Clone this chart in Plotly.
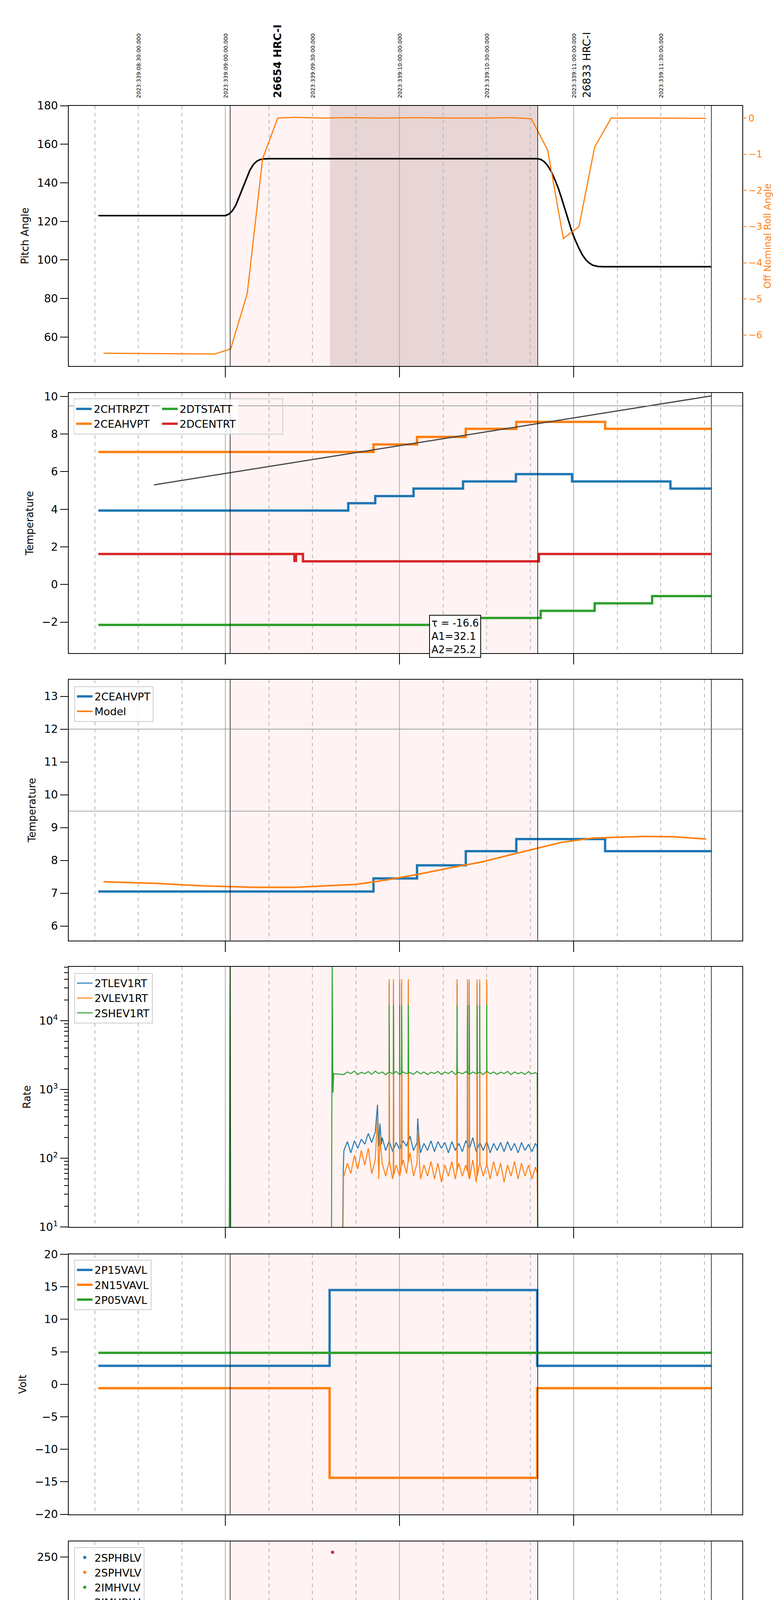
import numpy as np
import plotly.graph_objects as go

# ---------------- data (time in decimal hours, 2023-12-05) ----------------
pitch_t = [3.27, 4.00, 4.02, 4.04, 4.06, 4.08, 4.10, 4.12, 4.14, 4.16, 4.18, 4.20, 4.22, 4.25, 5.79, 5.81, 5.83, 5.85, 5.87, 5.89, 5.91, 5.93, 5.95, 5.97, 5.99, 6.01, 6.03, 6.05, 6.07, 6.09, 6.11, 6.14, 6.17, 6.79]
pitch_v = [123, 123, 123.8, 125.5, 128.5, 133, 138, 142.5, 146.5, 149.5, 151.2, 152.1, 152.4, 152.5, 152.5, 152.2, 151, 149, 146, 142, 137.5, 132, 126, 120, 114.5, 110, 106, 102.5, 100, 98.3, 97.2, 96.6, 96.5, 96.5]
roll_t = [3.30, 3.94, 4.03, 4.125, 4.213, 4.30, 4.40, 4.55, 4.70, 4.90, 5.10, 5.30, 5.50, 5.65, 5.756, 5.85, 5.94, 6.03, 6.12, 6.215, 6.50, 6.76]
roll_v = [-6.5, -6.52, -6.38, -4.85, -1.13, 0.0, 0.02, 0.0, 0.01, 0.0, 0.01, 0.0, 0.0, 0.01, -0.02, -0.88, -3.33, -3.0, -0.8, 0.0, 0.0, -0.01]

chtrpzt_t = [3.27, 4.705, 4.86, 5.08, 5.364, 5.668, 5.99, 6.555, 6.79]
chtrpzt_v = [3.93, 4.32, 4.70, 5.10, 5.48, 5.87, 5.48, 5.10, 5.10]
ceahvpt_t = [3.27, 4.85, 5.10, 5.38, 5.67, 6.18, 6.79]
ceahvpt_v = [7.05, 7.45, 7.85, 8.28, 8.65, 8.28, 8.28]
dtstatt_t = [3.27, 5.45, 5.81, 6.12, 6.45, 6.79]
dtstatt_v = [-2.15, -1.78, -1.40, -1.00, -0.62, -0.62]
dcentrt_t = [3.27, 4.396, 4.405, 4.43, 4.445, 5.80, 6.79]
dcentrt_v = [1.62, 1.25, 1.62, 1.62, 1.23, 1.62, 1.62]
fit_t = [3.59, 6.79]
fit_v = [5.30, 10.03]

model_t = [3.30, 3.59, 3.88, 4.17, 4.40, 4.75, 4.92, 5.10, 5.27, 5.47, 5.62, 5.76, 5.93, 6.11, 6.40, 6.57, 6.76]
model_v = [7.35, 7.30, 7.22, 7.18, 7.18, 7.27, 7.40, 7.57, 7.75, 7.95, 8.15, 8.33, 8.55, 8.68, 8.73, 8.72, 8.65]

# Rates
rate_t0, rate_dt = 4.68, 0.02
tlev_base = [130,175,120,180,140,190,160,230,170,240,150,200,130,175,125,170,135,180,150,210,130,170,120,165,130,180,125,175,140,170,120,175,130,165,125,180,140,200,125,170,130,175,120,165,130,170,125,175,130,165,120,170,130,160,125,165]
vlev_base = [55,85,60,110,70,130,80,140,60,95,50,85,55,90,50,80,55,95,60,120,55,85,50,80,55,90,50,85,45,80,55,90,50,85,55,80,50,95,45,85,55,80,50,90,55,85,45,80,55,90,50,85,55,80,50,75]
shev_base = [1650,1800,1700,1850,1650,1780,1700,1820,1660,1850,1700,1800,1640,1790,1690,1830,1650,1800,1700,1760,1660,1840,1690,1800,1650,1780,1710,1830,1660,1800,1700,1850,1650,1790,1690,1820,1660,1800,1700,1780,1650,1840,1690,1800,1660,1790,1700,1830,1650,1800,1700,1780,1660,1820,1690,1760]
tlev_bumps = [(4.670, 1), (4.676, 60), (4.873, 600), (4.879, 200), (4.887, 320), (4.896, 160), (5.104, 380), (5.111, 200), (5.79, 150), (5.795, 1)]
vlev_bumps = [(4.672, 1), (4.678, 60), (4.873, 400), (4.887, 200), (5.104, 260), (5.115, 80), (5.79, 60), (5.795, 1)]
shev_bumps = [(4.02, 1), (4.027, 80000), (4.031, 1), (4.608, 1), (4.613, 80000), (4.617, 900), (4.622, 1700), (5.79, 1700), (5.795, 1)]
rate_spikes = [4.94, 4.965, 5.0, 5.012, 5.05, 5.33, 5.39, 5.40, 5.445, 5.46, 5.50]
tlev_peak, vlev_peak, shev_peak = 35000, 40000, 17000

# Volts
p15_t = [3.27, 4.598, 5.79, 6.79]; p15_v = [2.85, 14.5, 2.85, 2.85]
n15_t = [3.27, 4.598, 5.79, 6.79]; n15_v = [-0.6, -14.4, -0.6, -0.6]
p05_t = [3.27, 6.79]; p05_v = [4.85, 4.85]

# HV monitor
imhblv_t = [4.615, 4.624, 4.625, 4.628, 4.632, 4.636, 4.640, 4.645, 4.650, 4.655, 4.660, 4.665, 5.0, 5.40]
imhblv_v = [255, 127, 125, 119, 106, 105, 101, 100, 95, 90, 88, 86, 79, 79]
imhvlv_t = [4.620, 4.625, 4.630, 4.638, 4.645, 4.652, 4.660, 4.668, 5.0, 5.405]
imhvlv_v = [100, 98, 96, 90, 88, 85, 83, 80, 127, 127]
hv_flat_start, hv_flat_end, hv_flat_dt = 4.67, 5.795, 0.004
imhblv_flat, imhvlv_flat = 86, 79

# Detector temps
spinatm_t = [4.624, 4.676, 5.783]; spinatm_v = [3.69, 4.15, 4.15]
sphvatm_t = [4.613, 4.68, 4.804, 4.809, 5.486, 5.783]; sphvatm_v = [16.05, 15.85, 16.05, 16.1, 16.4, 16.4]
iminatm_t = [4.625, 5.783]; iminatm_v = [2.35, 2.35]
imhvatm_t = [4.607, 4.608, 4.711, 4.844, 4.945, 5.06, 5.19, 5.335, 5.457, 5.673, 5.783, 5.795, 5.80]
imhvatm_v = [0.0, 15.27, 15.5, 15.8, 16.05, 16.4, 16.65, 16.95, 17.2, 17.5, 25, 25, 0.0]
det_spikes = [4.94, 4.965, 5.0, 5.01, 5.05, 5.33, 5.395, 5.405, 5.465, 5.50]
sphv_dips = [10.6, 10.6, 10.6, 10.9, 10.8, 11.4, 11.4, 11.4, 11.4, 11.4]

# FEA temps
fhtrmzt_t = [3.27, 4.772, 4.913, 5.038, 5.153, 5.275, 5.40, 5.517, 5.645, 5.775, 5.948, 6.208, 6.59, 6.79]
fhtrmzt_v = [-4.8, -4.4, -4.05, -3.65, -3.28, -2.9, -2.52, -2.13, -1.76, -1.38, -1.0, -1.38, -1.76, -1.76]
fradpyt_t = [3.27, 4.728, 4.855, 4.98, 5.10, 5.22, 5.347, 5.474, 5.61, 5.746, 6.173, 6.318, 6.477, 6.67, 6.79]
fradpyt_v = [-6.4, -6.0, -5.6, -5.2, -4.8, -4.42, -4.03, -3.65, -3.26, -2.88, -3.26, -3.65, -4.03, -4.42, -4.42]
fepratm_t = [4.62, 4.65, 4.694, 4.743, 4.795, 4.879, 5.023, 5.06, 5.176, 5.286, 5.42, 5.543, 5.682, 5.783, 5.79]
fepratm_v = [-3.85, -3.45, -3.03, -2.62, -2.22, -1.84, -1.45, -1.03, -0.6, -0.2, 0.2, 0.6, 1.03, 3.0, 3.0]
fe00atm_t = [4.607, 4.608, 4.725, 4.835, 4.922, 5.014, 5.09, 5.176, 5.27, 5.36, 5.45, 5.543, 5.64, 5.74, 5.79, 5.795, 5.80]
fe00atm_v = [-8.0, -2.45, -2.1, -1.75, -1.47, -1.13, -0.8, -0.48, -0.16, 0.16, 0.45, 0.75, 1.1, 1.4, 3.0, 3.0, -8.0]
fep_dips = [4.94, 4.965, 5.0, 5.01, 5.05, 5.33, 5.40]

# time marks
obs_start, obs_end, last_line, dark_start = 4.027, 5.793, 6.79, 4.60
top_label_hours = [3.5, 4.0, 4.5, 5.0, 5.5, 6.0, 6.5]
top_label_text = ["2023:339:08:30:00.000", "2023:339:09:00:00.000", "2023:339:09:30:00.000",
                  "2023:339:10:00:00.000", "2023:339:10:30:00.000", "2023:339:11:00:00.000",
                  "2023:339:11:30:00.000"]
obsid_hours = [4.30, 6.074]
obsid_text = ["<b>26654 HRC-I</b>", "26833 HRC-I"]

# ---------------- helpers ----------------
def step_val(ts, vs, t):
    idx = np.searchsorted(ts, t, side="right") - 1
    return vs[max(idx, 0)]

def with_spikes(ts, vs, times, peaks, w=0.004):
    pts = list(zip(ts, vs))
    if np.isscalar(peaks):
        peaks = [peaks] * len(times)
    for t, p in zip(times, peaks):
        b = step_val(ts, vs, t)
        pts += [(t, p), (t + w, b)]
    pts.sort(key=lambda a: a[0])
    return [a[0] for a in pts], [a[1] for a in pts]

def noisy(base, bumps, peak):
    t = list(rate_t0 + rate_dt * np.arange(len(base)))
    v = list(base)
    pts = list(zip(t, v)) + bumps
    for s in rate_spikes:
        b = float(np.interp(s, t, v))
        pts += [(s - 0.0015, b), (s, peak), (s + 0.0015, b)]
    pts.sort(key=lambda a: a[0])
    return [a[0] for a in pts], [a[1] for a in pts]

C = ["#1f77b4", "#ff7f0e", "#2ca02c", "#d62728"]
FONT = "DejaVu Sans"
X0, X1 = 3.10, 6.968
XD = [0.084, 0.9465]
doms = [[0.852, 0.960], [0.7327, 0.8408], [0.6135, 0.7218], [0.4945, 0.6026],
        [0.3753, 0.4832], [0.2561, 0.3640], [0.1369, 0.2448], [0.0176, 0.1256]]
quarters = [h + q for h in [3, 4, 5, 6] for q in [0.25, 0.5, 0.75]]

fig = go.Figure()

def add(i, x, y, name, color, width=6, legend=None, shape="hv", mode="lines", yax=None, msize=8):
    ax = "" if i == 1 else str(i)
    kw = dict(x=x, y=y, name=name, xaxis="x" + ax, yaxis=yax or ("y" + ax))
    if mode == "lines":
        kw.update(mode="lines", line=dict(color=color, width=width, shape=shape))
    else:
        kw.update(mode="markers", marker=dict(color=color, size=msize))
    if legend:
        kw.update(legend=legend, showlegend=True)
    else:
        kw.update(showlegend=False)
    fig.add_trace(go.Scatter(**kw))

# panel 1
add(1, pitch_t, pitch_v, "pitch", "black", 4, shape="linear")
add(1, roll_t, roll_v, "roll", C[1], 3, shape="linear", yax="y9")
# panel 2
add(2, chtrpzt_t, chtrpzt_v, "2CHTRPZT", C[0], 6, legend="legend2")
add(2, ceahvpt_t, ceahvpt_v, "2CEAHVPT", C[1], 6, legend="legend2")
add(2, dtstatt_t, dtstatt_v, "2DTSTATT", C[2], 6, legend="legend9")
add(2, dcentrt_t, dcentrt_v, "2DCENTRT", C[3], 6, legend="legend9")
add(2, fit_t, fit_v, "fit", "#444444", 3, shape="linear")
# panel 3
add(3, ceahvpt_t, ceahvpt_v, "2CEAHVPT", C[0], 6, legend="legend3")
add(3, model_t, model_v, "Model", C[1], 4, legend="legend3", shape="linear")
# panel 4
tx, ty = noisy(tlev_base, tlev_bumps, tlev_peak)
add(4, tx, ty, "2TLEV1RT", C[0], 2.5, legend="legend4", shape="linear")
vx, vy = noisy(vlev_base, vlev_bumps, vlev_peak)
add(4, vx, vy, "2VLEV1RT", C[1], 2.5, legend="legend4", shape="linear")
sx, sy = noisy(shev_base, shev_bumps, shev_peak)
add(4, sx, sy, "2SHEV1RT", C[2], 2.5, legend="legend4", shape="linear")
# panel 5
add(5, p15_t, p15_v, "2P15VAVL", C[0], 6, legend="legend5")
add(5, n15_t, n15_v, "2N15VAVL", C[1], 6, legend="legend5")
add(5, p05_t, p05_v, "2P05VAVL", C[2], 6, legend="legend5")
# panel 6
flat_t = list(np.arange(hv_flat_start, hv_flat_end, hv_flat_dt))
rb_t = imhblv_t + flat_t; rb_v = imhblv_v + [imhblv_flat] * len(flat_t)
gv_t = imhvlv_t + flat_t; gv_v = imhvlv_v + [imhvlv_flat] * len(flat_t)
add(6, rb_t, rb_v, "2SPHBLV", C[0], mode="markers", legend="legend6")
add(6, gv_t, gv_v, "2SPHVLV", C[1], mode="markers", legend="legend6")
add(6, gv_t, gv_v, "2IMHVLV", C[2], mode="markers", legend="legend6")
add(6, rb_t, rb_v, "2IMHBLV", C[3], mode="markers", legend="legend6")
# panel 7
a, b = with_spikes(spinatm_t, spinatm_v, det_spikes, -2)
add(7, [4.624] + a, [-2] + b, "2SPINATM", C[0], 6, legend="legend7")
a, b = with_spikes(sphvatm_t, sphvatm_v, det_spikes, sphv_dips)
add(7, a, b, "2SPHVATM", C[1], 6, legend="legend7")
a, b = with_spikes(iminatm_t, iminatm_v, det_spikes, 4.15)
add(7, a, b, "2IMINATM", C[2], 6, legend="legend7")
add(7, imhvatm_t, imhvatm_v, "2IMHVATM", C[3], 6, legend="legend7")
# panel 8
add(8, fhtrmzt_t, fhtrmzt_v, "2FHTRMZT", C[0], 6, legend="legend8")
add(8, fradpyt_t, fradpyt_v, "2FRADPYT", C[1], 6, legend="legend8")
a, b = with_spikes(fepratm_t, fepratm_v, fep_dips, -4.6)
add(8, a, b, "2FEPRATM", C[2], 6, legend="legend8")
a, b = with_spikes(fe00atm_t, fe00atm_v, det_spikes, 3.0)
add(8, a, b, "2FE00ATM", C[3], 6, legend="legend8")

# ---------------- layout ----------------
layout = dict(width=2000, height=6200, margin=dict(l=0, r=0, t=0, b=0),
              paper_bgcolor="white", plot_bgcolor="white",
              font=dict(family=FONT, size=28, color="black"))
yranges = [[45, 180], [-3.66, 10.19], [5.56, 13.51], [1, 4.785], [-20, 20], [0, 266], [0.87, 18.42], [-7.1, 1.98]]
ytitles = ["Pitch Angle", "Temperature", "Temperature", "Rate", "Volt", "HV Monitor", "Detector Temp", "FEA Temp"]
yticks = [list(range(60, 181, 20)), list(range(-2, 11, 2)), list(range(6, 14)), [10, 100, 1000, 10000],
          list(range(-20, 21, 5)), list(range(0, 251, 50)), list(range(2, 19, 2)), [-6, -4, -2, 0]]
for i in range(1, 9):
    ax = "" if i == 1 else str(i)
    last = i == 8
    layout["xaxis" + ax] = dict(domain=XD, anchor="y" + ax, range=[X0, X1], tickmode="array",
                                tickvals=[4, 5, 6], showticklabels=False, ticks="outside",
                                ticklen=27, tickwidth=2, tickcolor="black",
                                showgrid=True, gridcolor="#b0b0b0", gridwidth=1.5,
                                showline=True, linecolor="black", linewidth=4 if last else 2, mirror=True,
                                zeroline=False,
                                minor=dict(tickmode="array", tickvals=quarters, showgrid=True,
                                           gridcolor="#b5b5b5", griddash="dash", gridwidth=1.5,
                                           ticks="outside" if last else "", ticklen=10, tickwidth=2,
                                           tickcolor="black"))
    yd = dict(domain=doms[i - 1], anchor="x" + ax, range=yranges[i - 1], tickmode="array",
              tickvals=yticks[i - 1], ticks="outside", ticklen=20, tickwidth=2, tickcolor="black",
              showgrid=False, zeroline=False, showline=True, linecolor="black", linewidth=2, mirror=True,
              title=dict(text=ytitles[i - 1], font=dict(size=26), standoff=14),
              tickfont=dict(size=28))
    if i == 4:
        yd.update(type="log", ticktext=["10<sup>1</sup>", "10<sup>2</sup>", "10<sup>3</sup>", "10<sup>4</sup>"],
                  minor=dict(tickmode="array", ticks="outside", ticklen=10, tickwidth=1.5, tickcolor="black",
                             tickvals=[m * 10 ** e for e in [1, 2, 3, 4] for m in range(2, 10)]))
    layout["yaxis" + ax] = yd
layout["yaxis9"] = dict(overlaying="y", anchor="x", side="right", range=[-6.85, 0.34],
                        tickvals=[-6, -5, -4, -3, -2, -1, 0], ticks="outside", ticklen=10, tickwidth=2,
                        tickcolor=C[1], tickfont=dict(color=C[1], size=24), showgrid=False, zeroline=False)

def leg(top_px, bw=2):
    return dict(x=0.091, y=1 - top_px / 6200, xanchor="left", yanchor="top", bgcolor="rgba(255,255,255,0.8)",
                bordercolor="#cccccc" if bw else "rgba(0,0,0,0)", borderwidth=bw, font=dict(size=27),
                tracegroupgap=0, itemwidth=40)
layout["legend2"] = leg(1004, 0)
layout["legend9"] = dict(leg(1004, 0), x=0.201)
layout["legend3"] = leg(1742)
layout["legend4"] = leg(2480)
layout["legend5"] = leg(3218)
layout["legend6"] = leg(3958)
layout["legend7"] = leg(4696)
layout["legend8"] = leg(5434)

shapes = []
for i in range(1, 9):
    ax = "" if i == 1 else str(i)
    shapes.append(dict(type="rect", xref="x" + ax, yref="y" + ax + " domain", x0=obs_start, x1=obs_end,
                       y0=0, y1=1, fillcolor="rgba(255,200,200,0.22)", line=dict(width=0), layer="below"))
    for xv in [obs_start, obs_end, last_line]:
        shapes.append(dict(type="line", xref="x" + ax, yref="y" + ax + " domain", x0=xv, x1=xv, y0=0, y1=1,
                           line=dict(color="black", width=1.5)))
shapes.append(dict(type="rect", xref="x", yref="y domain", x0=dark_start, x1=obs_end, y0=0, y1=1,
                   fillcolor="rgba(150,110,110,0.22)", line=dict(width=0), layer="below"))
for top in [9.5]:
    shapes.append(dict(type="line", xref="x2 domain", yref="y2", x0=0, x1=1, y0=top, y1=top,
                       line=dict(color="#888888", width=1.5)))
for top in [12, 9.5]:
    shapes.append(dict(type="line", xref="x3 domain", yref="y3", x0=0, x1=1, y0=top, y1=top,
                       line=dict(color="#888888", width=1.5)))
shapes.append(dict(type="rect", xref="paper", yref="paper", x0=0.091, x1=0.358,
                   y0=1 - 1093 / 6200, y1=1 - 1002 / 6200, line=dict(color="#cccccc", width=2),
                   fillcolor="rgba(0,0,0,0)"))
layout["shapes"] = shapes

ann = []
for h, t in zip(top_label_hours, top_label_text):
    ann.append(dict(x=h, xref="x", y=1 - 230 / 6200, yref="paper", text=t, textangle=-90, showarrow=False,
                    xanchor="center", yanchor="bottom", font=dict(size=14)))
for h, t in zip(obsid_hours, obsid_text):
    ann.append(dict(x=h, xref="x", y=1 - 230 / 6200, yref="paper", text=t, textangle=-90, showarrow=False,
                    xanchor="center", yanchor="bottom", font=dict(size=27)))
ann.append(dict(x=1958 / 2000, xref="paper", y=1 - 583 / 6200, yref="paper", text="Off Nominal Roll Angle",
                textangle=-90, showarrow=False, xanchor="center", yanchor="middle",
                font=dict(size=24, color=C[1])))
ann.append(dict(x=5.17, xref="x2", y=1 - 1558 / 6200, yref="paper", text="τ = -16.6<br>A1=32.1<br>A2=25.2",
                align="left", showarrow=False, xanchor="left", yanchor="top", bgcolor="white",
                bordercolor="black", borderwidth=2, borderpad=4, font=dict(size=26)))
for q in quarters:
    if X0 < q < X1:
        ann.append(dict(x=q, xref="x8", y=1 - 6103 / 6200, yref="paper", text=str(int(round((q % 1) * 60))),
                        showarrow=False, xanchor="center", yanchor="top", font=dict(size=19)))
for h in [4, 5, 6]:
    ann.append(dict(x=h, xref="x8", y=1 - 6140 / 6200, yref="paper", text="%02dh" % h, showarrow=False,
                    xanchor="center", yanchor="middle", font=dict(size=28)))
ann.append(dict(x=0.515, xref="paper", y=1 - 6180 / 6200, yref="paper", text="2023-12-05 (339)",
                showarrow=False, xanchor="center", yanchor="middle", font=dict(size=30)))
layout["annotations"] = ann

fig.update_layout(**layout)
fig.write_html("out.html")
